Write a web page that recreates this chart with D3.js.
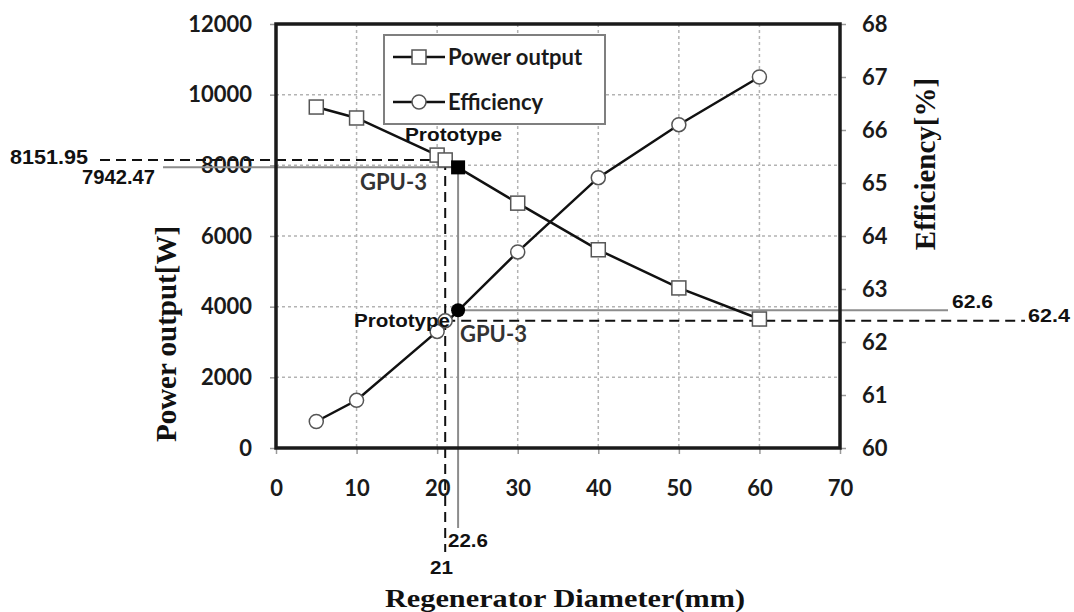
<!DOCTYPE html>
<html>
<head>
<meta charset="utf-8">
<script src="https://cdn.jsdelivr.net/npm/d3@7"></script>
<style>
  body { margin: 0; background: #fff; }
  svg text { font-family: Lato, "Open Sans", sans-serif; }
</style>
</head>
<body>
<div id="chart"></div>
<script>
// data
const diameters = [5, 10, 20, 30, 40, 50, 60];
const powerOutput = [9650, 9340, 8290, 6930, 5610, 4530, 3650];
const efficiency = [60.5, 60.9, 62.2, 63.7, 65.1, 66.1, 67.0];

const xTicks = [0, 10, 20, 30, 40, 50, 60, 70];
const leftTicks = [0, 2000, 4000, 6000, 8000, 10000, 12000];
const rightTicks = [60, 61, 62, 63, 64, 65, 66, 67, 68];

// prototype and GPU-3 points
const protoX = 21, gpuX = 22.6;
const protoPower = 8151.95, gpuPower = 7942.47;
const protoEff = 62.4, gpuEff = 62.6;

const width = 1074, height = 612;
const plotLeft = 276, plotRight = 840, plotTop = 24, plotBottom = 448;

const svg = d3.select("#chart")
  .append("svg")
    .attr("width", width)
    .attr("height", height);

const x = d3.scaleLinear().domain([0, 70]).range([plotLeft, plotRight]);
const yL = d3.scaleLinear().domain([0, 12000]).range([plotBottom, plotTop]);
const yR = d3.scaleLinear().domain([60, 68]).range([plotBottom, plotTop]);

// gridlines
const grid = svg.append("g")
  .attr("stroke", "#b3b3b3")
  .attr("stroke-width", 1.5)
  .attr("stroke-dasharray", "3,3");
grid.selectAll("line.v")
  .data(xTicks.filter(d => d > 0 && d < 70))
  .join("line")
    .attr("x1", d => x(d)).attr("x2", d => x(d))
    .attr("y1", plotTop).attr("y2", plotBottom);
grid.selectAll("line.h")
  .data(leftTicks.filter(d => d > 0 && d < 12000))
  .join("line")
    .attr("x1", plotLeft).attr("x2", plotRight)
    .attr("y1", d => yL(d)).attr("y2", d => yL(d));

// axes
function styleAxis(g) {
  g.select(".domain").remove();
  g.selectAll(".tick line").attr("stroke", "#999").attr("stroke-width", 1.5);
  g.selectAll(".tick text")
    .attr("fill", "#1a1a1a")
    .style("font-size", "22px")
    .style("font-weight", "bold");
}

svg.append("g")
  .attr("transform", `translate(${plotLeft},0)`)
  .call(d3.axisLeft(yL).tickValues(leftTicks).tickSize(6).tickPadding(18).tickFormat(d3.format("d")))
  .call(styleAxis);

svg.append("g")
  .attr("transform", `translate(${plotRight},0)`)
  .call(d3.axisRight(yR).tickValues(rightTicks).tickSize(6).tickPadding(16).tickFormat(d3.format("d")))
  .call(styleAxis);

svg.append("g")
  .attr("transform", `translate(0,${plotBottom})`)
  .call(d3.axisBottom(x).tickValues(xTicks).tickSize(6).tickPadding(26).tickFormat(d3.format("d")))
  .call(styleAxis);

// legend box
const legend = svg.append("g");
legend.append("rect")
  .attr("x", 384).attr("y", 35)
  .attr("width", 221).attr("height", 89)
  .attr("fill", "#fff")
  .attr("stroke", "#7f7f7f")
  .attr("stroke-width", 2);

const legendItems = [
  { name: "Power output", shape: "square", y: 57 },
  { name: "Efficiency", shape: "circle", y: 102 }
];
legendItems.forEach(function(it) {
  legend.append("line")
    .attr("x1", 393).attr("x2", 445)
    .attr("y1", it.y).attr("y2", it.y)
    .attr("stroke", "#111").attr("stroke-width", 2.5);
  if (it.shape == "square") {
    legend.append("rect")
      .attr("x", 419 - 7).attr("y", it.y - 7)
      .attr("width", 14).attr("height", 14)
      .attr("fill", "#fff").attr("stroke", "#555").attr("stroke-width", 1.5);
  } else {
    legend.append("circle")
      .attr("cx", 419).attr("cy", it.y).attr("r", 7)
      .attr("fill", "#fff").attr("stroke", "#555").attr("stroke-width", 1.5);
  }
  legend.append("text")
    .attr("x", 448).attr("y", it.y + 8)
    .style("font-size", "22px")
    .style("font-weight", "bold")
    .attr("fill", "#1a1a1a")
    .text(it.name);
});

// annotation lines
const ann = svg.append("g");
function annLine(x1, y1, x2, y2, dashed) {
  ann.append("line")
    .attr("x1", x1).attr("y1", y1).attr("x2", x2).attr("y2", y2)
    .attr("stroke", dashed ? "#111" : "#8c8c8c")
    .attr("stroke-width", 2)
    .attr("stroke-dasharray", dashed ? "10,6" : null);
}
annLine(100, yL(protoPower), x(protoX), yL(protoPower), true);
annLine(163, yL(gpuPower), x(gpuX), yL(gpuPower), false);
annLine(x(protoX), yL(protoPower), x(protoX), 552, true);
annLine(x(gpuX), yL(gpuPower), x(gpuX), 528, false);
annLine(x(gpuX), yR(gpuEff), 948, yR(gpuEff), false);
annLine(x(protoX), yR(protoEff), 1025, yR(protoEff), true);

// series lines
const linePower = d3.line().x(d => x(d[0])).y(d => yL(d[1]));
const lineEff = d3.line().x(d => x(d[0])).y(d => yR(d[1]));

svg.append("path")
  .datum(d3.zip(diameters, powerOutput))
  .attr("d", linePower)
  .attr("fill", "none").attr("stroke", "#111").attr("stroke-width", 2.5);

svg.append("path")
  .datum(d3.zip(diameters, efficiency))
  .attr("d", lineEff)
  .attr("fill", "none").attr("stroke", "#111").attr("stroke-width", 2.5);

// markers
svg.selectAll("rect.pw")
  .data(d3.zip(diameters, powerOutput))
  .join("rect")
    .attr("x", d => x(d[0]) - 7).attr("y", d => yL(d[1]) - 7)
    .attr("width", 14).attr("height", 14)
    .attr("fill", "#fff").attr("stroke", "#555").attr("stroke-width", 1.5);

svg.selectAll("circle.ef")
  .data(d3.zip(diameters, efficiency))
  .join("circle")
    .attr("cx", d => x(d[0])).attr("cy", d => yR(d[1])).attr("r", 7)
    .attr("fill", "#fff").attr("stroke", "#555").attr("stroke-width", 1.5);

svg.append("rect")
  .attr("x", x(protoX) - 7).attr("y", yL(protoPower) - 7)
  .attr("width", 14).attr("height", 14)
  .attr("fill", "#fff").attr("stroke", "#555").attr("stroke-width", 1.5);
svg.append("rect")
  .attr("x", x(gpuX) - 7).attr("y", yL(gpuPower) - 7)
  .attr("width", 14).attr("height", 14)
  .attr("fill", "#000");

svg.append("circle")
  .attr("cx", x(protoX)).attr("cy", yR(protoEff)).attr("r", 7)
  .attr("fill", "#fff").attr("stroke", "#555").attr("stroke-width", 1.5);
svg.append("circle")
  .attr("cx", x(gpuX)).attr("cy", yR(gpuEff)).attr("r", 7)
  .attr("fill", "#000");

// frame
svg.append("rect")
  .attr("x", plotLeft).attr("y", plotTop)
  .attr("width", plotRight - plotLeft).attr("height", plotBottom - plotTop)
  .attr("fill", "none")
  .attr("stroke", "#1a1a1a")
  .attr("stroke-width", 3.5);

// point labels
function label(txt, xx, yy, opts) {
  const t = svg.append("text")
    .attr("x", xx).attr("y", yy)
    .attr("fill", opts.fill || "#111")
    .attr("text-anchor", opts.anchor || "start")
    .style("font-size", opts.size + "px")
    .style("font-weight", "bold")
    .text(txt);
  if (opts.family) t.style("font-family", opts.family);
  if (opts.spacing) t.style("letter-spacing", opts.spacing + "px");
  if (opts.len) t.attr("textLength", opts.len).attr("lengthAdjust", "spacingAndGlyphs");
  return t;
}
const narrow = "'Liberation Sans Narrow', 'Liberation Sans', Arial, sans-serif";
label("Prototype", 405, 141, { size: 19, family: narrow, len: 97 });
label("GPU-3", 360, 190, { size: 22, fill: "#333" });
label("Prototype", 354, 327, { size: 19, family: narrow, len: 96 });
label("GPU-3", 460, 342, { size: 22, fill: "#333" });

label(d3.format(".2f")(protoPower), 10, 164, { size: 21, family: narrow, len: 78 });
label(d3.format(".2f")(gpuPower), 82, 184, { size: 21, family: narrow, len: 73 });
label(gpuEff, 952, 308, { size: 19, family: narrow, len: 41 });
label(protoEff, 1028, 322, { size: 19, family: narrow, len: 42 });
label(gpuX, 448, 547, { size: 19, family: narrow, len: 40 });
label(protoX, 430, 574, { size: 19, family: narrow, len: 23 });

// axis titles
const serif = "'Liberation Serif', 'Times New Roman', serif";
svg.append("text")
  .attr("transform", `translate(176,334) rotate(-90)`)
  .attr("text-anchor", "middle")
  .style("font-family", serif)
  .style("font-size", "29px")
  .style("font-weight", "bold")
  .attr("fill", "#111")
  .text("Power output[W]");

svg.append("text")
  .attr("transform", `translate(935,164) rotate(-90)`)
  .attr("text-anchor", "middle")
  .style("font-family", serif)
  .style("font-size", "29px")
  .style("font-weight", "bold")
  .attr("fill", "#111")
  .text("Efficiency[%]");

svg.append("text")
  .attr("x", 385).attr("y", 607)
  .attr("textLength", 360)
  .attr("lengthAdjust", "spacingAndGlyphs")
  .style("font-family", serif)
  .style("font-size", "26px")
  .style("font-weight", "bold")
  .attr("fill", "#111")
  .text("Regenerator Diameter(mm)");
</script>
</body>
</html>
